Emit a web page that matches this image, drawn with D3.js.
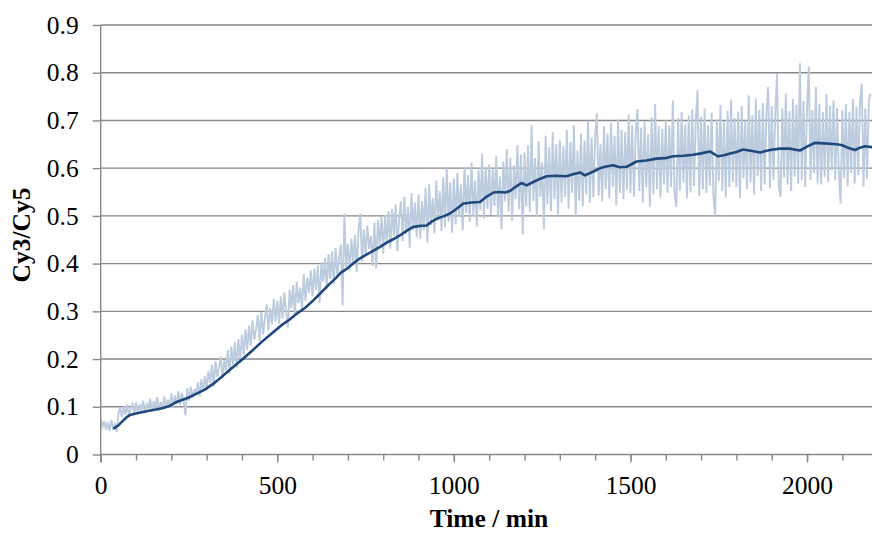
<!DOCTYPE html>
<html>
<head>
<meta charset="utf-8">
<script src="https://cdn.jsdelivr.net/npm/d3@7"></script>
<style>
  html, body { margin: 0; padding: 0; background: #fff; }
  svg { display: block; }
</style>
</head>
<body>
<svg id="chart" width="872" height="534"></svg>
<script>
// ---------- data ----------
const yTicks = [0, 0.1, 0.2, 0.3, 0.4, 0.5, 0.6, 0.7, 0.8, 0.9];
const xMajorTicks = [0, 500, 1000, 1500, 2000];
const xMinorTicks = [0, 100, 200, 300, 400, 500, 600, 700, 800, 900, 1000, 1100, 1200, 1300, 1400, 1500, 1600, 1700, 1800, 1900, 2000, 2100];
const xLabel = "Time / min";
const yLabel = "Cy3/Cy5";

// raw ratio, sampled every 5 min starting at t = 0
const rawStart = 0, rawStep = 5;
const rawValues = [
  0.075,0.058,0.070,0.052,0.068,0.049,0.072,0.055,0.063,0.047,0.085,0.099,0.078,0.101,0.083,0.104,0.080,0.097,0.106,0.084,
  0.109,0.087,0.105,0.090,0.113,0.086,0.108,0.095,0.117,0.089,0.112,0.098,0.120,0.091,0.110,0.094,0.122,0.096,0.115,0.101,
  0.128,0.100,0.124,0.106,0.133,0.104,0.129,0.112,0.082,0.139,0.113,0.142,0.119,0.137,0.125,0.151,0.122,0.158,0.131,0.164,
  0.138,0.175,0.150,0.188,0.142,0.196,0.163,0.182,0.205,0.160,0.198,0.176,0.219,0.170,0.226,0.188,0.236,0.182,0.242,0.200,
  0.251,0.208,0.262,0.219,0.270,0.228,0.281,0.240,0.262,0.292,0.238,0.299,0.251,0.286,0.314,0.260,0.307,0.272,0.326,0.279,
  0.322,0.274,0.331,0.284,0.340,0.298,0.266,0.345,0.306,0.355,0.292,0.362,0.317,0.350,0.303,0.378,0.322,0.371,0.339,0.386,
  0.331,0.389,0.345,0.396,0.318,0.402,0.362,0.412,0.347,0.420,0.368,0.426,0.357,0.433,0.376,0.414,0.440,0.313,0.505,0.392,
  0.441,0.385,0.452,0.398,0.460,0.382,0.468,0.505,0.404,0.472,0.417,0.479,0.430,0.458,0.395,0.486,0.390,0.492,0.438,0.498,
  0.421,0.502,0.440,0.510,0.431,0.515,0.458,0.524,0.426,0.496,0.530,0.447,0.540,0.462,0.519,0.433,0.548,0.470,0.528,0.455,
  0.545,0.452,0.531,0.470,0.559,0.444,0.566,0.480,0.538,0.463,0.574,0.490,0.552,0.468,0.581,0.476,0.600,0.488,0.570,0.465,
  0.579,0.482,0.590,0.498,0.566,0.470,0.603,0.505,0.585,0.488,0.612,0.500,0.574,0.478,0.596,0.512,0.630,0.495,0.601,0.515,
  0.608,0.502,0.597,0.521,0.625,0.497,0.583,0.472,0.614,0.530,0.640,0.508,0.622,0.490,0.606,0.535,0.648,0.514,0.628,0.462,
  0.633,0.520,0.648,0.508,0.690,0.531,0.622,0.498,0.657,0.540,0.612,0.472,0.668,0.525,0.644,0.510,0.675,0.535,0.650,0.503,
  0.660,0.528,0.646,0.540,0.681,0.515,0.655,0.548,0.690,0.497,0.637,0.532,0.672,0.520,0.658,0.545,0.700,0.527,0.664,0.539,
  0.665,0.715,0.542,0.650,0.530,0.688,0.556,0.673,0.537,0.695,0.560,0.668,0.522,0.702,0.548,0.680,0.535,0.675,0.555,0.712,
  0.548,0.690,0.540,0.676,0.724,0.552,0.685,0.528,0.698,0.560,0.671,0.519,0.707,0.545,0.735,0.556,0.689,0.538,0.682,0.566,
  0.700,0.548,0.690,0.560,0.742,0.545,0.519,0.705,0.553,0.718,0.570,0.692,0.537,0.711,0.549,0.723,0.562,0.698,0.763,0.541,
  0.708,0.556,0.725,0.548,0.690,0.563,0.716,0.540,0.501,0.702,0.572,0.733,0.552,0.697,0.538,0.721,0.560,0.744,0.571,0.705,
  0.560,0.718,0.537,0.731,0.579,0.700,0.556,0.752,0.570,0.711,0.545,0.746,0.583,0.722,0.552,0.737,0.566,0.715,0.770,0.558,
  0.730,0.575,0.712,0.798,0.561,0.540,0.725,0.580,0.757,0.566,0.719,0.552,0.745,0.582,0.733,0.568,0.820,0.575,0.741,0.560,
  0.728,0.813,0.575,0.722,0.589,0.770,0.568,0.735,0.566,0.718,0.582,0.755,0.571,0.730,0.595,0.742,0.574,0.726,0.592,0.526,
  0.722,0.579,0.735,0.562,0.718,0.590,0.745,0.568,0.729,0.585,0.738,0.777,0.561,0.725,0.578,0.742,0.756
];

// smoothed (moving average) curve
const smoothTime = [38, 50, 62, 75, 83, 100, 120, 140, 160, 173, 193, 205, 215, 230, 248, 270, 295, 320, 343, 370, 399, 428, 456, 485, 512, 535, 555, 580, 602, 625, 649, 665, 680, 697, 715, 732, 750, 770, 791, 810, 828, 847, 865, 885, 905, 923, 937, 951, 970, 989, 1008, 1027, 1050, 1074, 1092, 1112, 1130, 1145, 1159, 1175, 1192, 1206, 1225, 1245, 1263, 1290, 1319, 1340, 1357, 1371, 1395, 1418, 1435, 1451, 1470, 1489, 1518, 1545, 1574, 1598, 1621, 1650, 1678, 1700, 1725, 1747, 1765, 1780, 1800, 1819, 1845, 1867, 1895, 1923, 1950, 1980, 2000, 2022, 2050, 2084, 2100, 2112, 2136, 2150, 2164, 2184];
const smoothValue = [0.055, 0.061, 0.070, 0.079, 0.083, 0.086, 0.089, 0.092, 0.095, 0.097, 0.101, 0.106, 0.110, 0.114, 0.119, 0.127, 0.136, 0.149, 0.163, 0.180, 0.198, 0.217, 0.236, 0.254, 0.271, 0.283, 0.295, 0.308, 0.323, 0.340, 0.358, 0.369, 0.381, 0.389, 0.400, 0.410, 0.418, 0.426, 0.435, 0.444, 0.451, 0.459, 0.468, 0.477, 0.479, 0.480, 0.488, 0.494, 0.499, 0.505, 0.515, 0.526, 0.528, 0.529, 0.540, 0.549, 0.550, 0.549, 0.552, 0.561, 0.569, 0.564, 0.571, 0.578, 0.583, 0.584, 0.583, 0.588, 0.591, 0.585, 0.593, 0.601, 0.604, 0.606, 0.602, 0.603, 0.614, 0.616, 0.620, 0.621, 0.625, 0.626, 0.628, 0.631, 0.635, 0.625, 0.627, 0.630, 0.634, 0.639, 0.636, 0.633, 0.638, 0.641, 0.641, 0.637, 0.645, 0.653, 0.652, 0.650, 0.648, 0.644, 0.638, 0.643, 0.646, 0.644];

// ---------- layout ----------
const svg = d3.select("#chart");
const plotLeft = 100.7, plotRight = 872, plotTop = 25, plotBottom = 454.5;
const x = d3.scaleLinear().domain([0, 2184]).range([plotLeft, plotRight]);
const y = d3.scaleLinear().domain([0, 0.9]).range([plotBottom, plotTop]);

const gridColor = "#898989";
const font = "'Liberation Serif', 'Times New Roman', serif";

// gridlines
svg.append("g")
  .selectAll("line").data(yTicks).join("line")
  .attr("x1", plotLeft).attr("x2", plotRight)
  .attr("y1", d => y(d)).attr("y2", d => y(d))
  .attr("stroke", gridColor).attr("stroke-width", 1.4);

// raw series
const rawData = rawValues.map((v, i) => [rawStart + i * rawStep, v]);
svg.append("path")
  .datum(rawData)
  .attr("fill", "none")
  .attr("stroke", "#bccbde")
  .attr("stroke-width", 1.9)
  .attr("stroke-linejoin", "miter")
  .attr("d", d3.line().x(d => x(d[0])).y(d => y(d[1])));

// smoothed series
const smoothData = smoothTime.map((t, i) => [t, smoothValue[i]]);
svg.append("path")
  .datum(smoothData)
  .attr("fill", "none")
  .attr("stroke", "#1f497d")
  .attr("stroke-width", 2.6)
  .attr("stroke-linejoin", "round")
  .attr("stroke-linecap", "round")
  .attr("d", d3.line().x(d => x(d[0])).y(d => y(d[1])));

// y axis
const yAxis = svg.append("g")
  .attr("transform", `translate(${plotLeft},0)`)
  .call(d3.axisLeft(y).tickValues(yTicks).tickSize(8).tickPadding(14)
    .tickFormat(d => d === 0 ? "0" : d.toFixed(1)));
yAxis.select(".domain").remove();
yAxis.selectAll(".tick line").attr("stroke", gridColor).attr("stroke-width", 1.4);
yAxis.selectAll("text").attr("font-family", font).attr("font-size", 25.5).attr("fill", "#000");
svg.append("line")
  .attr("x1", plotLeft).attr("x2", plotLeft).attr("y1", plotTop).attr("y2", plotBottom + 8)
  .attr("stroke", gridColor).attr("stroke-width", 1.4);

// x axis: minor ticks
const xMinor = svg.append("g")
  .attr("transform", `translate(0,${plotBottom})`)
  .call(d3.axisBottom(x).tickValues(xMinorTicks).tickSize(6).tickFormat(""));
xMinor.select(".domain").remove();
xMinor.selectAll(".tick line").attr("stroke", gridColor).attr("stroke-width", 1.4);

// x axis: major ticks with labels
const xMajor = svg.append("g")
  .attr("transform", `translate(0,${plotBottom})`)
  .call(d3.axisBottom(x).tickValues(xMajorTicks).tickSize(8).tickPadding(13).tickFormat(d3.format("d")));
xMajor.select(".domain").remove();
xMajor.selectAll(".tick line").attr("stroke", gridColor).attr("stroke-width", 1.4);
xMajor.selectAll("text").attr("font-family", font).attr("font-size", 25.5).attr("fill", "#000");

// axis titles
svg.append("text")
  .attr("x", 489).attr("y", 527)
  .attr("text-anchor", "middle")
  .attr("font-family", font).attr("font-size", 25.5).attr("font-weight", "bold")
  .text(xLabel);

svg.append("text")
  .attr("transform", "translate(30,235) rotate(-90)")
  .attr("text-anchor", "middle")
  .attr("font-family", font).attr("font-size", 25.5).attr("font-weight", "bold")
  .text(yLabel);
</script>
</body>
</html>
